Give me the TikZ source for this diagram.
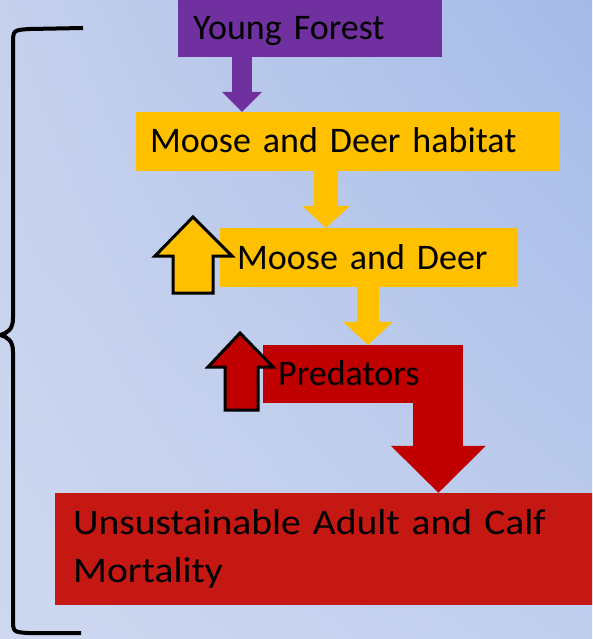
\documentclass[tikz,border=0pt]{standalone}
\usepackage{fontspec}
\setmainfont{Carlito}
\newfontfamily\widefont[FakeStretch=1.1]{Carlito}
\usetikzlibrary{arrows.meta,shadings}
\usetikzlibrary{positioning}

\definecolor{forestpurple}{RGB}{112,48,160}
\definecolor{deergold}{RGB}{255,192,0}
\definecolor{predred}{RGB}{192,0,0}
\definecolor{mortred}{RGB}{198,24,18}
\definecolor{skytl}{RGB}{196,208,236}
\definecolor{skytr}{RGB}{164,186,232}
\definecolor{skybl}{RGB}{206,216,240}
\definecolor{skybr}{RGB}{192,206,238}

\tikzset{
  box/.style={rectangle, anchor=west, inner xsep=15pt, inner ysep=0pt, align=left,
    font=\fontsize{36}{48}\selectfont},
  one line/.style={text height=23pt, text depth=0pt},
  fat arrow/.style n args={4}{draw=#1, line width=#2,
    -{Triangle[width=#3,length=#4,line width=0pt]}},
  up arrow/.style={draw=black, line width=3pt, line join=miter},
  brace/.style={draw=black, line width=4pt}
}

\begin{document}
\begin{tikzpicture}[x=1pt,y=-1pt]
\useasboundingbox (0,0) rectangle (592,639);
\shade[upper left=skytl, upper right=skytr, lower left=skybl, lower right=skybr] (0,0) rectangle (592,639);
\clip (0,0) rectangle (592,639);

\node (young) [box, one line, fill=forestpurple, text width=234pt, minimum height=57pt] at (178,28.5) {Young Forest};
\node (habitat) [box, one line, fill=deergold, text width=395pt, minimum height=59pt, inner xsep=14pt] at (136,141.5) {Moose and Deer habitat};
\node (deer) [box, one line, fill=deergold, text width=264pt, minimum height=59pt, inner xsep=17pt] at (220,257.5) {Moose and Deer};
\node (pred) [box, one line, fill=predred, text width=170pt, minimum height=58pt] at (263,374) {Predators};
\node (mort) [box, fill=mortred, text width=520pt, minimum height=112pt, inner xsep=18pt,
  font=\widefont\fontsize{36}{48}\selectfont] at (55,549) {Unsustainable Adult and Calf\\Mortality};

\coordinate (p1) at ([xshift=64pt]young.south west);
\coordinate (p2) at ([xshift=190pt]habitat.south west);
\coordinate (p3) at ([xshift=148pt]deer.south west);
\coordinate (p4) at ([xshift=-25pt]pred.south east);

\draw[fat arrow={forestpurple}{20pt}{40pt}{20pt}] (p1) -- (p1 |- habitat.north);
\draw[fat arrow={deergold}{24pt}{48pt}{22pt}] (p2) -- (p2 |- deer.north);
\draw[fat arrow={deergold}{22pt}{50pt}{23pt}] (p3) -- (p3 |- pred.north);
\draw[fat arrow={predred}{50pt}{95pt}{47pt}] (p4) -- (p4 |- mort.north);

% up arrows beside the boxes
\filldraw[up arrow, fill=deergold] (193,217) -- (232,256) -- (213,256) -- (213,293) -- (173,293) -- (173,256) -- (155,256) -- cycle;
\filldraw[up arrow, fill=predred] (240,333) -- (273,367) -- (258,367) -- (258,410) -- (225,410) -- (225,367) -- (208,367) -- cycle;

% brace
\draw[brace] (83,28) -- (30,29) .. controls (13,30) .. (13,45) -- (13,318)
  .. controls (13,329) and (8,333) .. (0,335)
  .. controls (8,337) and (13,341) .. (13,352) -- (13,618)
  .. controls (13,632) .. (28,633) -- (81,633);
\end{tikzpicture}
\end{document}
